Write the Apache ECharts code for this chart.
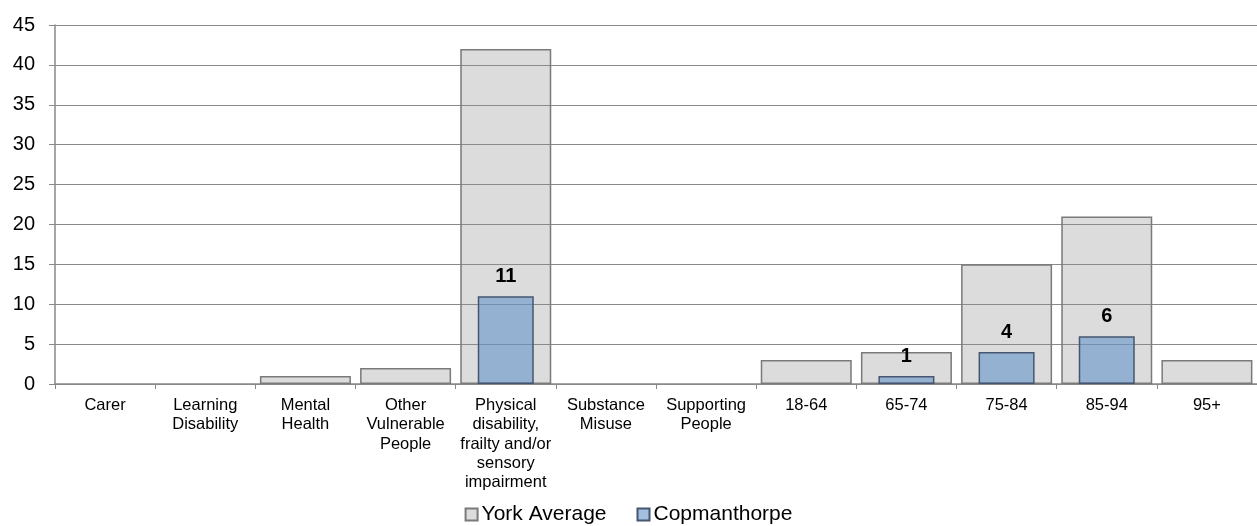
<!DOCTYPE html>
<html>
<head>
<meta charset="utf-8">
<script src="https://cdn.jsdelivr.net/npm/echarts@6/dist/echarts.min.js"></script>
<style>
  html, body { margin: 0; padding: 0; background: #fff; }
  #chart { width: 1257px; height: 526px; }
</style>
</head>
<body>
<div id="chart"></div>
<script>
// categories along the x axis
const categories = [
  'Carer',
  'Learning\nDisability',
  'Mental\nHealth',
  'Other\nVulnerable\nPeople',
  'Physical\ndisability,\nfrailty and/or\nsensory\nimpairment',
  'Substance\nMisuse',
  'Supporting\nPeople',
  '18-64',
  '65-74',
  '75-84',
  '85-94',
  '95+'
]
const yorkAverage = [0, 0, 1, 2, 42, 0, 0, 3, 4, 15, 21, 3]
const copmanthorpe = [0, 0, 0, 0, 11, 0, 0, 0, 1, 4, 6, 0]
const yTicks = { min: 0, max: 45, step: 5 }

const font = 'Liberation Sans, Arial, sans-serif'
const myChart = echarts.init(document.getElementById('chart'))

// zero values draw no bar at all (not even a border line)
function hideZero (arr) {
  return arr.map(v => (v === 0 ? '-' : v))
}

const option = {
  animation: false,
  textStyle: { fontFamily: font },
  grid: {
    left: 55,
    right: -7,
    top: 25,
    bottom: 142
  },
  legend: {
    top: 499,
    left: 'center',
    icon: 'rect',
    itemWidth: 12,
    itemHeight: 12,
    itemGap: 30,
    textStyle: { fontSize: 21, color: '#000', fontFamily: font, padding: [0, 0, 0, -1] },
    data: ['York Average', 'Copmanthorpe']
  },
  xAxis: [
    {
      type: 'category',
      data: categories,
      axisLine: { lineStyle: { color: '#888', width: 1.5 } },
      axisTick: { show: true, length: 5, lineStyle: { color: '#888' } },
      axisLabel: {
        interval: 0,
        margin: 12,
        fontSize: 16.5,
        lineHeight: 19.3,
        color: '#000',
        fontFamily: font
      },
      splitLine: { show: false }
    },
    {
      type: 'category',
      data: categories,
      show: false
    }
  ],
  yAxis: {
    type: 'value',
    min: yTicks.min,
    max: yTicks.max,
    interval: yTicks.step,
    axisLine: { show: true, lineStyle: { color: '#888', width: 1.5 } },
    axisTick: { show: true, length: 6, lineStyle: { color: '#888' } },
    axisLabel: {
      margin: 20,
      fontSize: 20,
      color: '#000',
      fontFamily: font
    },
    splitLine: { show: true, lineStyle: { color: '#8a8a8a', width: 1.2 } }
  },
  series: [
    {
      name: 'York Average',
      type: 'bar',
      xAxisIndex: 0,
      barWidth: 91,
      data: hideZero(yorkAverage),
      itemStyle: {
        color: 'rgba(140,140,140,0.3)',
        borderColor: '#7a7a7a',
        borderWidth: 1.5
      }
    },
    {
      name: 'Copmanthorpe',
      type: 'bar',
      xAxisIndex: 1,
      barWidth: 56,
      data: hideZero(copmanthorpe),
      itemStyle: {
        color: 'rgba(101,148,201,0.6)',
        borderColor: '#465670',
        borderWidth: 1.5
      },
      label: {
        show: true,
        position: 'top',
        distance: 10,
        fontSize: 20,
        fontWeight: 'bold',
        color: '#000',
        fontFamily: font
      }
    }
  ]
}
myChart.setOption(option)
</script>
</body>
</html>
